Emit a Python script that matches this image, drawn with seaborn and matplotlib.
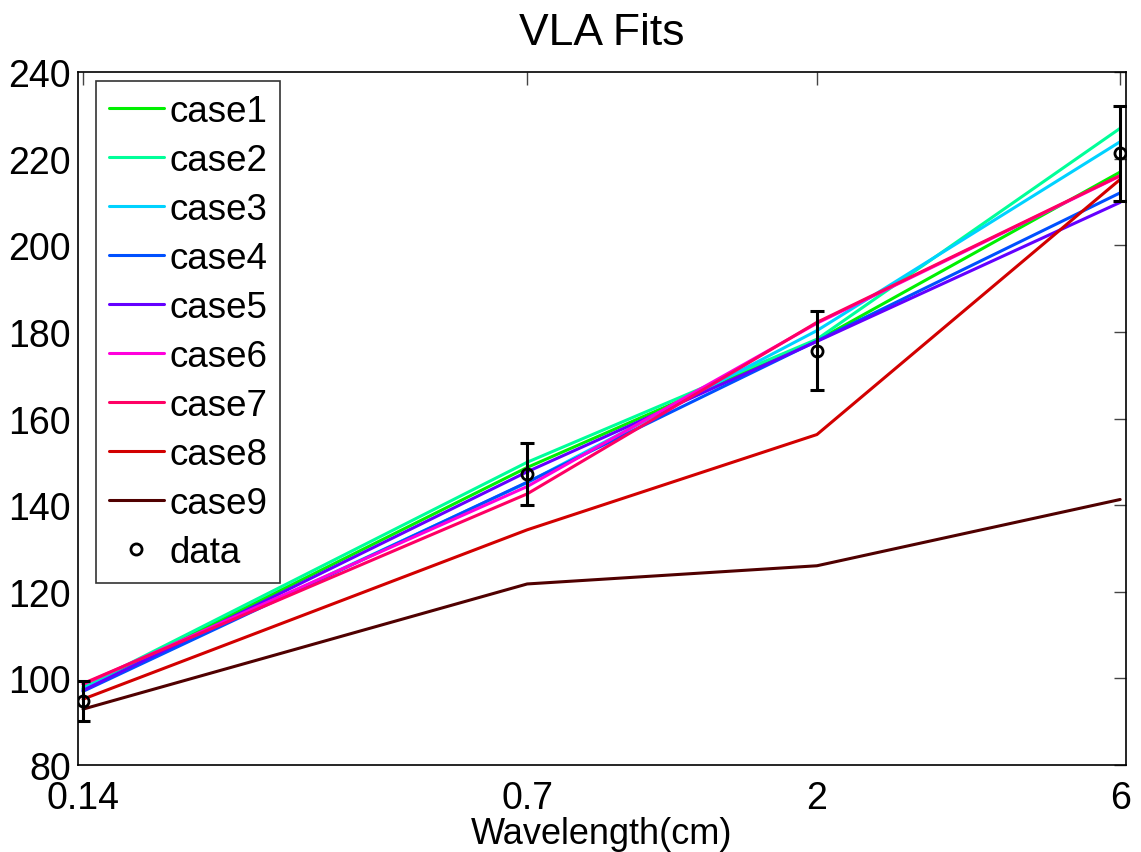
import numpy as np
import pandas as pd
import matplotlib
matplotlib.use('Agg')
import matplotlib.pyplot as plt
import seaborn as sns

# wavelengths (cm) and measured fluxes
wavelength = [0.14, 0.7, 2, 6]
data_flux = [94.8, 147.2, 175.7, 221.2]
data_err = [4.6, 7.2, 9.1, 11.0]

# model fits, one list per case
case1 = [97.6, 148.7, 178.0, 216.9]
case2 = [98.0, 149.9, 178.3, 227.0]
case3 = [97.5, 145.2, 180.3, 223.9]
case4 = [97.0, 145.3, 177.9, 212.1]
case5 = [97.2, 147.7, 177.8, 209.9]
case6 = [98.6, 144.3, 182.0, 216.0]
case7 = [98.8, 142.6, 182.2, 216.1]
case8 = [95.2, 134.3, 156.3, 215.2]
case9 = [92.9, 121.8, 126.0, 141.3]
case_names = ['case1', 'case2', 'case3', 'case4', 'case5',
              'case6', 'case7', 'case8', 'case9']
case_colors = ['#00f000', '#00ff99', '#00d2ff', '#0050ff', '#6400ff',
               '#ff00dc', '#ff0064', '#d20000', '#500000']

fits = [case1, case2, case3, case4, case5, case6, case7, case8, case9]
df = pd.DataFrame({
    'wavelength': wavelength * len(fits),
    'flux': np.concatenate(fits),
    'case': np.repeat(case_names, len(wavelength)),
})

sns.set_style('white')
plt.rcParams['font.family'] = ['Liberation Sans', 'DejaVu Sans']
plt.rcParams['text.color'] = 'black'
plt.rcParams['axes.labelcolor'] = 'black'

fig = plt.figure(figsize=(11.41, 8.53), dpi=100)
ax = fig.add_axes([0.0684, 0.102, 0.9185, 0.8124])

sns.lineplot(data=df, x='wavelength', y='flux', hue='case',
             palette=dict(zip(case_names, case_colors)),
             linewidth=2.2, ax=ax, legend=True)

# data with error bars
ax.errorbar(wavelength, data_flux, yerr=data_err, fmt='none',
            ecolor='black', elinewidth=2.2, capsize=5, capthick=2.2, zorder=5)
ax.plot(wavelength, data_flux, 'o', mfc='none', mec='black', mew=2,
        ms=8, label='data', zorder=6)

ax.set_xscale('log')
ax.set_xlim(0.1375, 6.13)
ax.set_ylim(80, 240)
ax.set_xticks(wavelength)
ax.set_xticklabels(['0.14', '0.7', '2', '6'])
ax.xaxis.set_minor_locator(matplotlib.ticker.NullLocator())
ax.set_yticks(range(80, 241, 20))
ax.tick_params(direction='in', length=9, width=1, labelsize=27,
               top=True, right=True, colors='#444444', labelcolor='black')
ax.tick_params(axis='y', pad=5)
ax.tick_params(axis='x', pad=11)
for s in ax.spines.values():
    s.set_color('black')
    s.set_linewidth(1.2)

ax.set_title('VLA Fits', fontsize=32, pad=20, color='black')
ax.set_xlabel('Wavelength(cm)', fontsize=26, labelpad=0, color='black')
ax.set_ylabel('')

handles, labels = ax.get_legend_handles_labels()
leg = ax.legend(handles, labels, loc='upper left', bbox_to_anchor=(0.017, 0.987),
                fontsize=26.5, frameon=True, fancybox=False, handlelength=1.5,
                handletextpad=0.15, labelspacing=0.38, borderpad=0.35,
                borderaxespad=0)
leg.get_frame().set_edgecolor('black')
leg.get_frame().set_linewidth(1.2)
for t in leg.get_texts():
    t.set_color('black')

fig.savefig('out.png', dpi=100)
